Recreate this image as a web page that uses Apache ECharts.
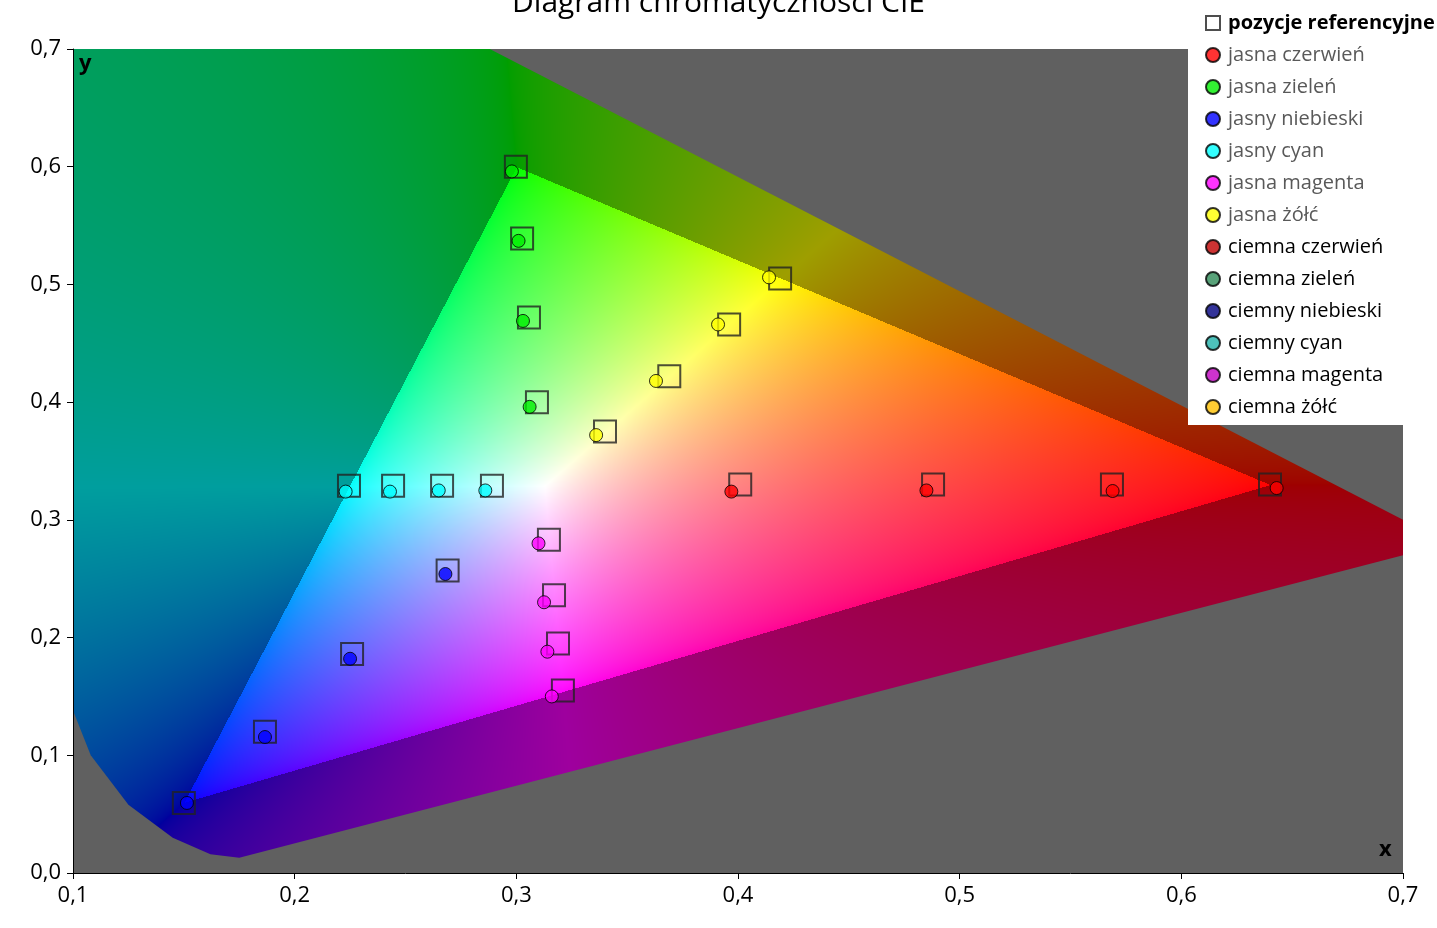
<!DOCTYPE html>
<html><head><meta charset="utf-8">
<script src="https://cdn.jsdelivr.net/npm/echarts@6/dist/echarts.min.js"></script>
<style>html,body{margin:0;padding:0;background:#fff}#c{width:1437px;height:928px}</style>
</head><body><div id="c"></div>
<script>
// pozycje referencyjne (kwadraty)
const refPoints = [
  [0.2998,0.600],[0.3026,0.539],[0.3057,0.472],[0.3093,0.400],
  [0.419,0.505],[0.396,0.466],[0.369,0.422],[0.340,0.375],
  [0.2245,0.329],[0.2444,0.329],[0.2665,0.329],[0.289,0.329],
  [0.3147,0.283],[0.317,0.236],[0.3188,0.195],[0.321,0.155],
  [0.269,0.257],[0.2259,0.186],[0.1866,0.120],[0.150,0.0595],
  [0.401,0.330],[0.488,0.330],[0.5687,0.330],[0.640,0.330]
];
const lightRed = [[0.397,0.324],[0.485,0.325],[0.569,0.3245],[0.643,0.327]];
const lightGreen = [[0.298,0.596],[0.301,0.537],[0.303,0.469],[0.306,0.396]];
const lightBlue = [[0.268,0.254],[0.225,0.182],[0.1866,0.1155],[0.1514,0.0595]];
const lightCyan = [[0.223,0.324],[0.243,0.324],[0.265,0.325],[0.286,0.325]];
const lightMagenta = [[0.310,0.280],[0.3125,0.230],[0.314,0.188],[0.316,0.150]];
const lightYellow = [[0.414,0.506],[0.391,0.466],[0.363,0.418],[0.336,0.372]];

// obrys wykresu (przybliżony locus widma)
const locus = [[0.1,0.7],[0.288,0.7],[0.7,0.30],[0.7,0.27],[0.175,0.013],[0.162,0.016],
  [0.145,0.03],[0.125,0.058],[0.108,0.1],[0.1,0.138]];

const names = ['jasna czerwień','jasna zieleń','jasny niebieski','jasny cyan','jasna magenta','jasna żółć',
  'ciemna czerwień','ciemna zieleń','ciemny niebieski','ciemny cyan','ciemna magenta','ciemna żółć'];
const colors = ['#ff0000','#00ee00','#0000ff','#00ffff','#ff00ff','#ffff00',
  '#c00000','#2e8b57','#000080','#20b2aa','#c000c0','#ffc000'];
const dataSets = [lightRed,lightGreen,lightBlue,lightCyan,lightMagenta,lightYellow,[],[],[],[],[],[]];

const fmt = v => (Math.round(v*10)/10).toFixed(1).replace('.', ',');
const chart = echarts.init(document.getElementById('c'));

const series = [{
  name:'pozycje referencyjne', type:'scatter', symbol:'rect', symbolSize:22, data:refPoints, z:3,
  itemStyle:{color:'rgba(0,0,0,0)', borderColor:'#222', borderWidth:2}
}];
names.forEach((n,i)=>series.push({
  name:n, type:'scatter', symbolSize:13, data:dataSets[i], z:4,
  itemStyle:{color:colors[i], borderColor:'#000', borderWidth:1}
}));

chart.setOption({
  animation:false,
  title:{text:'Diagram chromatyczności CIE', left:'center', top:-17,
    textStyle:{fontFamily:'Open Sans', fontSize:30, fontWeight:'normal', color:'#000'}},
  grid:{left:73, right:34, top:49, bottom:55},
  xAxis:{type:'value', min:0.1, max:0.7, interval:0.1,
    axisLine:{lineStyle:{color:'#000'}}, axisTick:{length:6, lineStyle:{color:'#000'}},
    splitLine:{show:false},
    axisLabel:{formatter:fmt, fontSize:22, color:'#000', fontFamily:'Open Sans', margin:12}},
  yAxis:{type:'value', min:0, max:0.7, interval:0.1,
    axisLine:{show:true, lineStyle:{color:'#000'}}, axisTick:{show:true, length:6, lineStyle:{color:'#000'}},
    splitLine:{show:false},
    axisLabel:{formatter:fmt, fontSize:22, color:'#000', fontFamily:'Open Sans', margin:12}},
  legend:{orient:'vertical', left:1188, top:-4, backgroundColor:'#fff', padding:[11,20,2,17],
    itemGap:0, itemWidth:14, itemHeight:14, z:10,
    data:[{name:'pozycje referencyjne', icon:'rect', textStyle:{fontWeight:'bold', color:'#000'}}]
      .concat(names.map((n,i)=>({name:n, icon:'circle', textStyle:{color:i<6?'#595959':'#000'}}))),
    textStyle:{fontFamily:'Open Sans', fontSize:20, lineHeight:32, color:'#595959', padding:[0,0,0,3]}},
  series:series
});

// tło: diagram barw
const p0 = chart.convertToPixel({gridIndex:0},[0.1,0.7]);
const p1 = chart.convertToPixel({gridIndex:0},[0.7,0]);
const W = Math.round(p1[0]-p0[0]), H = Math.round(p1[1]-p0[1]);
const cv = document.createElement('canvas'); cv.width=W; cv.height=H;
const ctx = cv.getContext('2d');
const img = ctx.createImageData(W,H);
const gam = c => Math.pow(c,1/1.5);
for (let j=0;j<H;j++){
  const y = 0.7 - 0.7*j/H;
  for (let i=0;i<W;i++){
    const x = 0.1 + 0.6*i/W;
    const X = x/y, Z = (1-x-y)/y;
    let r = 3.2406*X-1.5372-0.4986*Z, g=-0.9689*X+1.8758+0.0415*Z, b=0.0557*X-0.2040+1.0570*Z;
    const mn = Math.min(r,g,b);
    const out = mn<0;
    if (out){ r-=mn; g-=mn; b-=mn; }
    const m = Math.max(r,g,b)||1;
    const f = out?0.62:1;
    const k=(j*W+i)*4;
    img.data[k]=255*f*gam(r/m); img.data[k+1]=255*f*gam(g/m); img.data[k+2]=255*f*gam(b/m); img.data[k+3]=255;
  }
}
const tmp = document.createElement('canvas'); tmp.width=W; tmp.height=H;
tmp.getContext('2d').putImageData(img,0,0);
ctx.fillStyle='#606060'; ctx.fillRect(0,0,W,H);
ctx.save(); ctx.beginPath();
locus.forEach((p,idx)=>{const q=[(p[0]-0.1)/0.6*W,(0.7-p[1])/0.7*H]; idx?ctx.lineTo(q[0],q[1]):ctx.moveTo(q[0],q[1]);});
ctx.closePath(); ctx.clip(); ctx.drawImage(tmp,0,0); ctx.restore();

chart.setOption({graphic:[
  {type:'image', x:p0[0], y:p0[1], z:-1, silent:true, style:{image:cv, width:W, height:H}},
  {type:'text', x:p0[0]+6, y:p0[1]+4, z:5, style:{text:'y', font:'bold 22px "Open Sans"', fill:'#000'}},
  {type:'text', x:p1[0]-24, y:p1[1]-34, z:5, style:{text:'x', font:'bold 22px "Open Sans"', fill:'#000'}}
]});
</script></body></html>
